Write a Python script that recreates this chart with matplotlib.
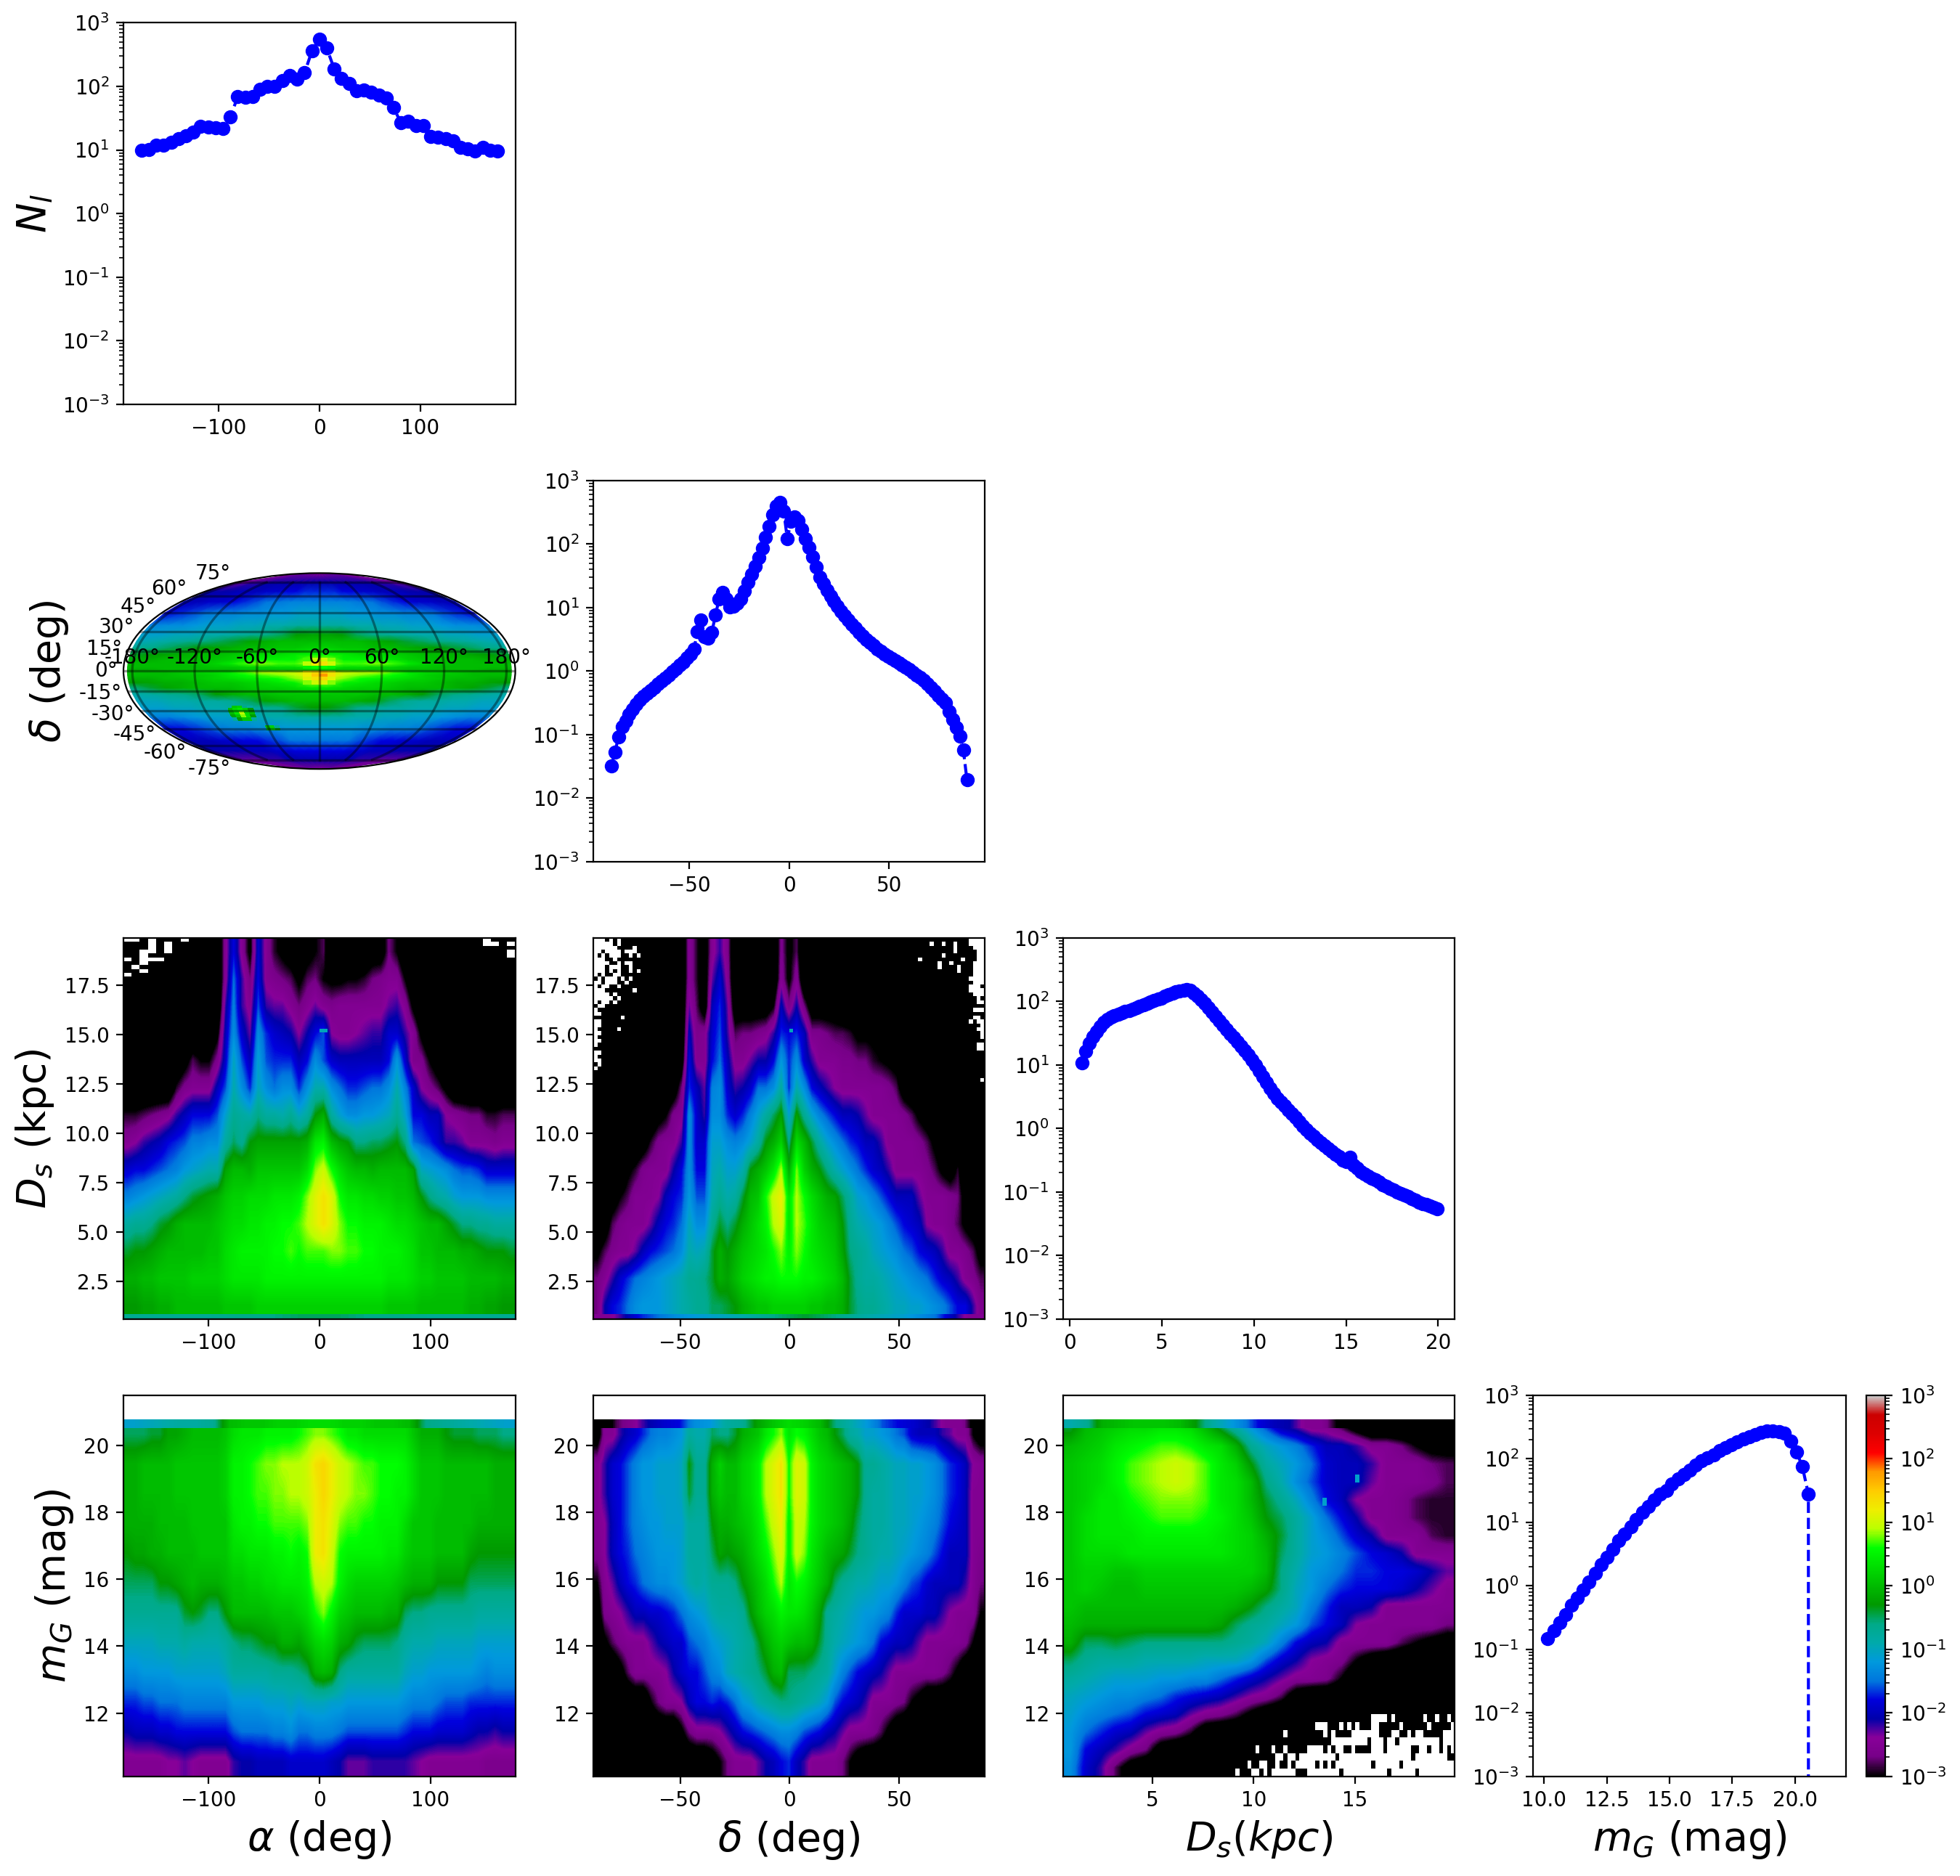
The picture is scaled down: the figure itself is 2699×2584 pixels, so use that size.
import numpy as np
import matplotlib
matplotlib.use('Agg')
import matplotlib.pyplot as plt
from matplotlib.colors import LogNorm, Normalize
from matplotlib.cm import ScalarMappable
from matplotlib.patches import Rectangle

# 1D histograms
alpha_bins = [-176.3,-169.0,-161.6,-154.3,-146.9,-139.6,-132.2,-124.9,-117.6,-110.2,-102.9,-95.5,-88.2,-80.8,-73.5,-66.1,-58.8,-51.4,-44.1,-36.7,-29.4,-22.0,-14.7,-7.3,0.0,7.3,14.7,22.0,29.4,36.7,44.1,51.4,58.8,66.1,73.5,80.8,88.2,95.5,102.9,110.2,117.6,124.9,132.2,139.6,146.9,154.3,161.6,169.0,176.3]
n_alpha = [10.0,10.2,11.8,11.8,13.3,14.9,16.8,18.9,23.3,22.8,22.3,22.0,33,69,67,69,91,100,99,123,148,129,163,363,553,400,188,132,112,86,87,81,72,66,46,26.7,28,24.2,24,16.4,16,15,13.8,11.1,10.4,9.6,11,10,9.6]

delta_bins = [-89.1,-87.3,-85.5,-83.7,-81.9,-80.1,-78.3,-76.5,-74.7,-72.9,-71.1,-69.3,-67.5,-65.7,-63.9,-62.1,-60.3,-58.5,-56.7,-54.9,-53.1,-51.3,-49.5,-47.7,-45.9,-44.1,-42.3,-40.5,-38.7,-36.9,-35.1,-33.3,-31.5,-29.7,-27.9,-26.1,-24.3,-22.5,-20.7,-18.9,-17.1,-15.3,-13.5,-11.7,-9.9,-8.1,-6.3,-4.5,-2.7,-0.9,0.9,2.7,4.5,6.3,8.1,9.9,11.7,13.5,15.3,17.1,18.9,20.7,22.5,24.3,26.1,27.9,29.7,31.5,33.3,35.1,36.9,38.7,40.5,42.3,44.1,45.9,47.7,49.5,51.3,53.1,54.9,56.7,58.5,60.3,62.1,63.9,65.7,67.5,69.3,71.1,72.9,74.7,76.5,78.3,80.1,81.9,83.7,85.5,87.3,89.1]
n_delta = [.032,.0525,.091,.134,.166,.208,.25,.30,.348,.40,.44,.49,.55,.62,.70,.78,.87,.98,1.10,1.24,1.4,1.6,1.85,2.2,4.2,6.4,3.5,3.3,4.1,7.6,13.6,17.1,13.6,10.2,10.4,11.8,13.8,18,25,33,45,61,87,127,188,288,398,452,331,120,227,269,232,172,121,89,62,43,30,23.8,18.8,15.2,12.6,10.4,8.7,7.4,6.3,5.4,4.7,4.07,3.57,3.16,2.8,2.5,2.24,2.04,1.86,1.69,1.58,1.47,1.36,1.26,1.15,1.05,.96,.87,.79,.71,.63,.55,.48,.41,.36,.316,.229,.172,.13,.0955,.0569,.0193]

ds_bins = [.64,.84,1.03,1.23,1.43,1.63,1.82,2.02,2.22,2.41,2.61,2.81,3.00,3.20,3.40,3.60,3.79,3.99,4.19,4.38,4.58,4.78,4.97,5.17,5.37,5.57,5.76,5.96,6.16,6.35,6.55,6.75,6.94,7.14,7.34,7.54,7.73,7.93,8.13,8.32,8.52,8.72,8.91,9.11,9.31,9.51,9.70,9.90,10.10,10.29,10.49,10.69,10.88,11.08,11.28,11.48,11.67,11.87,12.07,12.26,12.46,12.66,12.85,13.05,13.25,13.45,13.64,13.84,14.04,14.23,14.43,14.63,14.82,15.02,15.22,15.42,15.61,15.81,16.01,16.20,16.40,16.60,16.79,16.99,17.19,17.39,17.58,17.78,17.98,18.17,18.37,18.57,18.76,18.96,19.16,19.36,19.55,19.75,19.95]
n_ds = [10.7,16.4,21.7,27.5,33,40,47,52,56,60,63,66,69,72,76,80,84,89,93,97,103,108,113,120,127,134,141,147,151,153,150,136,122,106,92,79,68,58,49,42,36,31,27,23,19.5,17,14.5,12,10,8.1,6.5,5.3,4.3,3.6,3.0,2.6,2.25,1.95,1.7,1.48,1.27,1.1,.96,.84,.75,.67,.60,.54,.48,.43,.39,.36,.32,.30,.348,.26,.235,.21,.19,.178,.165,.155,.142,.131,.122,.114,.107,.10,.094,.089,.084,.079,.074,.069,.066,.063,.060,.058,.054]

mg_bins = [10.14,10.38,10.61,10.85,11.08,11.32,11.56,11.79,12.03,12.27,12.50,12.74,12.98,13.21,13.45,13.68,13.92,14.16,14.39,14.63,14.87,15.10,15.34,15.58,15.81,16.05,16.28,16.52,16.76,16.99,17.23,17.47,17.70,17.94,18.18,18.41,18.65,18.88,19.12,19.36,19.59,19.83,20.07,20.30,20.54,20.78]
n_mg = [.146,.198,.263,.352,.49,.65,.87,1.15,1.59,2.15,2.85,3.78,5.1,6.5,8.5,11.1,14.3,17.8,22.5,27.5,32,40,48,56,66,80,92,104,116,133,149,165,186,206,224,240,257,276,276,266,253,192,128,75,27.7,0]

# 2D maps, log10 of the density in tenths of a dex, first row is the lowest one
alpha_ds = [
 [-3,-3,-2,-2,-1,-1,0,0,0,0,0,0, 1,1,1,1,2,2,2,2,2,2,2,2, 2,2,2,2,2,2,2,2,1,1,1,1, 0,0,0,0,0,0,-1,-1,-2,-2,-3,-3],
 [-1,-1,0,0,1,1,1,1,2,2,2,2, 3,4,4,4,4,5,5,5,5,5,5,5, 5,5,5,5,5,5,5,5,4,4,4,3, 2,2,1,1,1,1,0,0,0,0,-1,-1],
 [-4,-3,-3,-2,-1,0,0,0,0,0,1,1, 3,4,5,5,5,5,6,6,7,6,7,7, 7,8,8,7,7,6,6,5,5,5,4,3, 1,1,0,0,0,-1,-1,-2,-3,-3,-3,-4],
 [-8,-7,-7,-6,-4,-3,-1,0,0,0,0,1, 2,3,3,4,4,5,5,6,6,7,9,11, 13,11,8,6,6,5,5,5,4,3,3,2, 1,0,0,-2,-4,-6,-6,-7,-7,-8,-8,-8],
 [-14,-13,-12,-11,-10,-9,-8,-6,-4,-3,-2,-1, 1,2,2,3,3,3,4,4,4,5,8,11, 13,11,6,4,4,3,3,2,2,1,1,0, -3,-6,-8,-9,-11,-12,-12,-12,-13,-13,-13,-13],
 [-19,-18,-18,-17,-16,-15,-14,-12,-11,-10,-9,-9, -2,0,0,-1,1,1,1,1,1,1,3,8, 10,6,3,1,0,0,-1,0,0,0,0,-2, -10,-11,-12,-13,-15,-16,-16,-17,-19,-19,-19,-19],
 [-25,-24,-22,-21,-20,-18,-17,-16,-14,-14,-13,-13, -8,-5,-7,-3,-2,-2,-2,-2,-2,-2,-1,4, 5,0,-2,-3,-6,-6,-5,-5,-4,-3,-6,-15, -16,-17,-19,-22,-22,-23,-25,-25,-25,-26,-25,-25],
 [-29,-29,-28,-27,-26,-25,-22,-20,-18,-18,-18,-16, -11,-7,-8,-9,-6,-8,-8,-9,-7,-10,-8,-3, -1,-8,-11,-13,-13,-12,-12,-11,-10,-7,-11,-18, -18,-20,-20,-24,-25,-26,-27,-27,-29,-29,-28,-28],
 [-35,-35,-35,-35,-35,-35,-29,-26,-25,-25,-25,-20, -16,-9,-13,-17,-10,-13,-15,-13,-13,-17,-13,-9, -9,-13,-15,-17,-17,-16,-15,-15,-13,-9,-14,-19, -24,-26,-28,-31,-35,-35,-35,-35,-35,-35,-35,-35],
 [-35,-35,-35,-35,-35,-35,-35,-32,-28,-30,-30,-26, -19,-10,-16,-20,-11,-16,-17,-17,-17,-20,-18,-13, -16,-19,-20,-20,-20,-20,-20,-20,-18,-12,-19,-26, -26,-30,-33,-35,-35,-35,-35,-35,-35,-35,-35,-35],
 [-35,-35,-35,-35,-35,-35,-35,-35,-35,-35,-35,-31, -20,-13,-19,-23,-13,-17,-19,-20,-21,-24,-21,-18, -16,-24,-25,-25,-24,-23,-22,-22,-19,-19,-22,-25, -31,-35,-35,-35,-35,-35,-35,-35,-35,-35,-35,-35],
 [-35,-35,-35,-35,-35,-35,-35,-35,-35,-35,-35,-35, -22,-14,-22,-25,-16,-22,-23,-23,-25,-27,-25,-23, -25,-26,-25,-25,-25,-25,-25,-25,-23,-22,-25,-31, -35,-35,-35,-35,-35,-35,-35,-35,-35,-35,-35,-35],
 [-35,-35,-35,-35,-35,-35,-35,-35,-35,-35,-35,-35, -25,-15,-22,-27,-18,-25,-26,-27,-28,-31,-28,-27, -30,-31,-31,-30,-30,-29,-27,-26,-25,-25,-30,-35, -35,-35,-35,-35,-35,-35,-35,-35,-35,-35,-35,-35],
 [-35,-35,-35,-35,-35,-35,-35,-35,-35,-35,-35,-35, -25,-18,-25,-31,-19,-25,-29,-31,-33,-35,-32,-30, -28,-35,-35,-35,-35,-35,-33,-33,-27,-30,-35,-35, -35,-35,-35,-35,-35,-35,-35,-35,-35,-35,-35,-35],
]

delta_ds = [
 [-27,-21,-18,-17,-15,-13,-12,-12,-12,-11,-10,-9,-8,-7,-7,-5,-5,-4,-3,-1,0,1,1,2,2,2,2,2,1,1,0,0,-1,-4,-6,-7,-7,-8,-9,-10,-10,-11,-11,-12,-13,-14,-16,-18,-18,-22,-26],
 [-27,-25,-22,-19,-17,-15,-14,-13,-12,-11,-10,-9,-7,-7,-6,-4,-1,-2,0,2,3,4,5,5,6,6,6,5,5,4,3,2,0,-4,-7,-8,-8,-9,-10,-11,-12,-13,-14,-15,-17,-19,-20,-22,-25,-26,-28],
 [-31,-28,-26,-25,-25,-23,-20,-18,-17,-16,-15,-13,-9,-10,-9,-4,-1,-3,-1,1,2,3,4,6,8,5,8,6,4,3,2,1,-2,-6,-7,-8,-10,-11,-12,-13,-15,-16,-18,-19,-20,-22,-25,-25,-26,-28,-32],
 [-35,-33,-28,-26,-25,-25,-25,-23,-20,-18,-17,-15,-10,-13,-13,-7,-4,-6,-4,-1,1,3,5,9,11,4,9,7,4,2,1,0,-3,-7,-9,-10,-11,-12,-14,-16,-18,-19,-20,-24,-25,-25,-26,-28,-31,-33,-33],
 [-35,-35,-33,-30,-28,-25,-25,-25,-24,-20,-18,-17,-12,-16,-16,-9,-7,-9,-8,-4,0,1,6,10,12,4,9,6,3,1,-1,-2,-5,-8,-11,-12,-14,-16,-18,-20,-20,-20,-23,-25,-25,-25,-26,-27,-32,-35,-35],
 [-35,-35,-35,-35,-31,-29,-26,-25,-25,-25,-21,-18,-13,-18,-18,-10,-9,-11,-11,-9,-3,-1,1,4,9,-1,8,2,-1,-3,-6,-9,-11,-13,-15,-17,-19,-20,-22,-25,-25,-25,-25,-26,-28,-31,-33,-29,-35,-35,-35],
 [-35,-35,-35,-35,-35,-35,-33,-29,-26,-25,-25,-22,-13,-19,-19,-11,-11,-13,-14,-13,-11,-8,-3,-1,2,-6,3,0,-4,-8,-11,-13,-15,-17,-18,-20,-20,-22,-25,-25,-25,-25,-26,-28,-31,-33,-35,-35,-35,-35,-35],
 [-35,-35,-35,-35,-35,-35,-35,-35,-32,-30,-26,-25,-13,-19,-22,-13,-13,-17,-19,-17,-14,-11,-8,-5,-2,-11,-2,-7,-11,-14,-16,-18,-20,-20,-21,-23,-25,-25,-25,-25,-26,-28,-31,-33,-35,-35,-35,-35,-35,-35,-35],
 [-35,-35,-35,-35,-35,-35,-35,-35,-35,-35,-33,-27,-17,-20,-23,-14,-13,-19,-22,-21,-19,-15,-15,-13,-8,-17,-9,-13,-18,-20,-22,-24,-25,-25,-25,-25,-25,-25,-26,-28,-33,-35,-35,-35,-35,-35,-35,-35,-35,-35,-35],
 [-35,-35,-35,-35,-35,-35,-35,-35,-35,-35,-35,-33,-18,-25,-25,-18,-15,-20,-25,-25,-23,-21,-21,-18,-12,-17,-13,-19,-22,-25,-25,-25,-26,-26,-27,-27,-29,-30,-31,-32,-35,-35,-35,-35,-35,-35,-35,-35,-35,-35,-35],
 [-35,-35,-35,-35,-35,-35,-35,-35,-35,-35,-35,-35,-20,-26,-25,-19,-16,-22,-28,-27,-27,-26,-25,-22,-17,-18,-17,-20,-26,-26,-27,-28,-28,-29,-31,-31,-31,-31,-33,-35,-35,-35,-35,-35,-35,-35,-35,-35,-35,-35,-35],
 [-35,-35,-35,-35,-35,-35,-35,-35,-35,-35,-35,-35,-23,-28,-33,-20,-17,-23,-33,-33,-33,-33,-33,-30,-20,-26,-21,-27,-33,-33,-33,-33,-35,-35,-35,-35,-35,-35,-35,-35,-35,-35,-35,-35,-35,-35,-35,-35,-35,-35,-35],
 [-35,-35,-35,-35,-35,-35,-35,-35,-35,-35,-35,-35,-25,-29,-33,-23,-19,-25,-35,-35,-35,-35,-35,-35,-25,-31,-25,-35,-35,-35,-35,-35,-35,-35,-35,-35,-35,-35,-35,-35,-35,-35,-35,-35,-35,-35,-35,-35,-35,-35,-35],
 [-35,-35,-35,-35,-35,-35,-35,-35,-35,-35,-35,-35,-25,-29,-33,-25,-22,-26,-35,-35,-35,-35,-35,-35,-26,-31,-28,-35,-35,-35,-35,-35,-35,-35,-35,-35,-35,-35,-35,-35,-35,-35,-35,-35,-35,-35,-35,-35,-35,-35,-35],
]

alpha_mg = [
 [-25,-25,-25,-25,-25,-24,-24,-23,-24,-25,-25,-25, -25,-22,-21,-21,-20,-20,-20,-20,-19,-19,-19,-19, -19,-20,-21,-23,-23,-23,-22,-22,-22,-22,-22,-23, -24,-25,-25,-25,-25,-25,-25,-25,-26,-26,-26,-26],
 [-21,-20,-20,-20,-19,-19,-18,-18,-18,-18,-18,-18, -18,-16,-15,-15,-15,-15,-14,-14,-13,-15,-15,-14, -14,-14,-15,-16,-16,-16,-16,-16,-16,-16,-17,-18, -18,-18,-19,-19,-19,-19,-20,-21,-21,-22,-21,-21],
 [-17,-17,-16,-16,-15,-15,-15,-14,-14,-14,-14,-14, -14,-12,-12,-12,-12,-11,-11,-11,-10,-11,-10,-10, -10,-11,-11,-12,-12,-12,-12,-12,-12,-12,-13,-14, -14,-14,-15,-16,-16,-16,-17,-17,-17,-17,-17,-17],
 [-13,-13,-12,-12,-12,-12,-11,-11,-11,-11,-11,-11, -10,-8,-8,-8,-8,-8,-7,-7,-7,-6,-5,-1, 0,-1,-6,-8,-8,-8,-8,-8,-8,-8,-10,-11, -11,-12,-12,-12,-12,-12,-12,-13,-14,-13,-13,-13],
 [-10,-10,-10,-10,-9,-9,-9,-8,-9,-9,-9,-9, -8,-6,-5,-5,-4,-3,-3,-1,-1,-2,0,2, 3,2,-1,-2,-4,-5,-5,-5,-5,-6,-8,-9, -9,-9,-10,-10,-10,-10,-10,-11,-11,-11,-11,-11],
 [-7,-7,-7,-7,-7,-7,-7,-4,-3,-4,-6,-6, -3,0,0,0,0,0,1,1,1,2,3,6, 8,5,2,1,0,0,0,0,-1,-1,-5,-6, -6,-7,-7,-7,-7,-7,-7,-8,-8,-8,-8,-8],
 [-5,-5,-5,-5,-3,-3,-2,-1,0,-1,-1,-1, 0,1,1,2,2,3,3,4,4,4,5,9, 10,9,5,3,2,2,2,2,2,1,0,-1, -1,-1,-3,-3,-3,-3,-5,-5,-5,-5,-5,-5],
 [-3,-2,-2,-1,-1,0,0,0,0,1,1,1, 1,3,3,4,4,4,5,5,6,5,6,12, 13,10,6,5,5,5,5,5,4,4,2,1, 1,1,0,0,0,0,-2,-3,-3,-3,-3,-3],
 [-1,-1,-1,-1,0,0,0,0,1,1,1,1, 1,4,5,5,6,6,7,7,7,7,8,12, 13,11,8,7,7,6,6,5,5,5,3,1, 1,1,0,0,0,0,0,-1,-1,-1,-1,-1],
 [-1,-1,0,0,0,0,1,1,1,1,1,1, 2,5,5,6,7,7,8,8,9,9,10,12, 14,12,10,9,8,8,7,6,6,5,5,3, 1,1,1,0,0,0,0,0,0,-1,-1,-1],
 [-1,-1,0,0,0,0,1,1,1,1,1,1, 2,5,5,6,7,8,8,9,9,9,10,13, 14,12,10,9,8,7,7,6,6,6,5,3, 1,1,1,0,0,0,0,0,0,-1,-1,-1],
 [-5,-5,-5,-4,-4,-2,-2,-1,0,0,0,0, 1,3,4,4,4,5,5,5,5,6,7,8, 8,7,6,4,4,3,3,3,3,3,3,1, -1,-1,-1,-3,-4,-4,-4,-5,-5,-5,-6,-6],
]

delta_mg = [
 [-35,-35,-35,-35,-35,-35,-35,-35,-35,-35,-35,-35,-35,-35,-35,-33,-30,-27,-25,-25,-25,-23,-21,-20,-18,-17,-20,-22,-25,-25,-25,-25,-27,-30,-33,-35,-35,-35,-35,-35,-35,-35,-35,-35,-35,-35,-35,-35,-35,-35,-35],
 [-35,-35,-35,-35,-35,-35,-35,-35,-35,-35,-35,-31,-27,-25,-25,-25,-24,-22,-20,-18,-17,-16,-15,-14,-13,-13,-14,-16,-17,-18,-20,-21,-23,-25,-25,-25,-26,-28,-31,-34,-35,-35,-35,-35,-35,-35,-35,-35,-35,-35,-35],
 [-35,-35,-35,-35,-35,-35,-35,-30,-27,-25,-25,-24,-20,-18,-18,-17,-18,-17,-15,-12,-11,-9,-8,-7,-6,-6,-7,-8,-9,-10,-12,-16,-18,-19,-20,-22,-25,-25,-25,-26,-27,-30,-32,-35,-35,-35,-35,-35,-35,-35,-35],
 [-35,-35,-35,-32,-28,-25,-25,-25,-25,-24,-21,-19,-18,-18,-16,-14,-13,-10,-9,-8,-7,-6,-4,-1,0,-5,-5,-5,-6,-7,-8,-11,-14,-16,-18,-19,-20,-21,-23,-25,-25,-25,-25,-25,-25,-26,-28,-31,-35,-35,-35],
 [-35,-31,-28,-26,-25,-25,-25,-23,-21,-20,-19,-19,-16,-15,-14,-12,-11,-10,-9,-8,-7,-4,-1,1,2,1,0,0,-1,-4,-7,-9,-10,-11,-12,-13,-15,-18,-19,-20,-20,-21,-23,-25,-25,-25,-25,-25,-26,-30,-34],
 [-33,-26,-25,-24,-22,-20,-20,-19,-19,-18,-17,-15,-13,-12,-11,-9,-8,-8,-8,-7,-3,0,2,3,5,4,4,3,1,-2,-7,-8,-9,-10,-11,-12,-12,-13,-14,-17,-19,-19,-19,-20,-20,-22,-24,-25,-25,-25,-30],
 [-30,-25,-23,-20,-18,-17,-15,-14,-13,-13,-12,-11,-9,-8,-9,-7,-7,-7,-6,-3,-1,1,3,6,9,4,6,5,3,1,-1,-5,-7,-8,-9,-9,-10,-11,-11,-12,-14,-16,-17,-19,-20,-20,-20,-20,-22,-25,-27],
 [-26,-24,-20,-18,-17,-15,-14,-13,-12,-12,-12,-11,-8,-8,-8,-5,-2,-3,-2,-1,1,3,5,8,11,5,10,8,4,2,0,-1,-2,-4,-6,-7,-8,-9,-9,-10,-11,-12,-13,-14,-16,-18,-20,-20,-20,-25,-26],
 [-25,-24,-20,-18,-16,-14,-13,-12,-12,-11,-11,-11,-8,-8,-8,-3,-1,-1,0,1,2,4,7,10,12,5,10,9,5,3,2,1,0,-2,-5,-7,-8,-8,-9,-10,-10,-11,-12,-13,-14,-16,-18,-19,-20,-25,-25],
 [-25,-22,-19,-18,-16,-14,-12,-12,-11,-11,-11,-10,-4,-7,-7,-1,1,0,0,2,3,5,9,11,13,6,11,10,5,3,2,1,0,-1,-3,-7,-8,-8,-9,-10,-10,-11,-11,-12,-13,-15,-17,-18,-20,-25,-25],
 [-25,-22,-19,-18,-16,-14,-12,-12,-11,-11,-11,-10,-3,-7,-7,-1,2,0,0,2,3,5,9,11,13,6,11,10,5,3,2,1,0,-1,-3,-7,-7,-8,-9,-10,-10,-11,-11,-12,-13,-15,-17,-18,-20,-24,-25],
 [-33,-25,-25,-22,-20,-19,-17,-15,-14,-14,-13,-12,-8,-9,-9,-5,-6,-6,-4,-1,0,1,4,6,8,4,6,5,3,1,0,-3,-5,-8,-9,-11,-11,-12,-13,-15,-16,-19,-20,-20,-20,-22,-23,-25,-25,-30,-33],
]

ds_mg = [
 [-13,-19,-22,-28,-33,-35,-35,-35,-35,-35,-35,-35,-35,-35,-35,-35,-35,-35,-35,-35,-35,-35,-35,-35,-35,-35],
 [-12,-18,-20,-22,-25,-27,-33,-35,-35,-35,-35,-35,-35,-35,-35,-35,-35,-35,-35,-35,-35,-35,-35,-35,-35,-35],
 [-12,-15,-17,-19,-20,-23,-25,-26,-29,-34,-35,-35,-35,-35,-35,-35,-35,-35,-35,-35,-35,-35,-35,-35,-35,-35],
 [-11,-13,-14,-15,-16,-18,-19,-20,-23,-25,-26,-28,-31,-34,-35,-35,-35,-35,-35,-35,-35,-35,-35,-35,-35,-35],
 [-10,-11,-12,-13,-13,-14,-15,-17,-18,-19,-20,-22,-24,-25,-28,-33,-35,-35,-35,-35,-35,-35,-35,-35,-35,-35],
 [-8,-9,-10,-11,-11,-11,-12,-12,-13,-13,-15,-17,-19,-21,-23,-25,-25,-26,-30,-35,-35,-35,-35,-35,-35,-35],
 [-5,-7,-8,-8,-8,-9,-9,-9,-9,-10,-10,-10,-12,-16,-19,-21,-24,-25,-26,-30,-33,-35,-35,-35,-35,-35],
 [-1,-5,-5,-4,-5,-6,-6,-6,-6,-6,-6,-7,-8,-10,-14,-18,-20,-21,-25,-25,-25,-25,-28,-30,-32,-33],
 [0,-1,-1,-1,-1,-1,-1,-1,-1,-1,-2,-5,-7,-8,-10,-12,-16,-18,-20,-24,-25,-25,-25,-25,-25,-27],
 [1,0,0,0,0,0,0,0,0,0,0,-1,-3,-6,-8,-10,-14,-17,-20,-20,-21,-25,-25,-25,-25,-25],
 [1,2,1,0,0,1,1,1,1,1,1,1,0,-2,-6,-10,-12,-15,-17,-18,-18,-18,-19,-21,-23,-25],
 [1,2,2,1,1,2,2,2,2,2,2,2,2,0,-6,-9,-12,-13,-15,-17,-17,-18,-18,-19,-21,-23],
 [1,3,3,3,4,4,4,4,4,4,4,3,2,0,-5,-8,-11,-12,-14,-16,-18,-19,-21,-25,-25,-25],
 [1,3,4,4,4,5,5,5,5,5,4,3,2,-1,-4,-8,-11,-13,-16,-19,-21,-25,-25,-25,-28,-29],
 [1,3,4,4,5,6,7,7,7,6,5,3,1,-3,-5,-8,-11,-15,-18,-21,-25,-25,-26,-28,-29,-29],
 [1,2,4,4,6,7,8,8,8,7,4,3,0,-4,-7,-10,-14,-18,-20,-24,-25,-25,-26,-28,-29,-29],
 [1,2,3,5,7,8,9,10,9,7,4,3,0,-6,-9,-13,-16,-19,-20,-20,-23,-25,-25,-25,-26,-28],
 [1,2,3,5,7,8,9,10,9,7,4,2,-3,-8,-10,-12,-15,-19,-20,-20,-22,-25,-25,-25,-27,-28],
 [0,1,2,4,5,6,7,7,6,4,3,-1,-7,-10,-12,-14,-17,-20,-20,-22,-25,-25,-27,-30,-32,-32],
 [-4,0,1,2,3,3,4,4,3,0,-4,-8,-12,-16,-20,-22,-25,-25,-28,-32,-35,-35,-35,-35,-35,-35],
]

# thin rows at the edge of the maps
alpha_ds_edge = [-7,-7,-7,-6,-6,-5,-5,-6,-6,-7,-7,-7]
delta_ds_edge = [-25,-17,-13,-11,-9,-6,-4,-6,-9,-11,-15,-25]
alpha_mg_edge = [-11,-10,-9,-8,-8,-7,0,1,1,2,2,3,3,2,2,1,1,0,-6,-7,-8,-9,-10,-11]
delta_mg_edge = [-35,-28,-25,-21,-19,-18,-13,-12,-8,-7,-2,1,3,2,0,-6,-9,-12,-16,-18,-19,-21,-25,-25,-33]
ds_mg_edge = [-9,-7,-1,0,1,1,1,0,-3,-8,-11,-14,-18,-20,-21,-25,-25,-30,-35,-35,-35,-35,-35,-35,-35]

# odd single bins: x, y, log10 in tenths
odd_alpha_ds = [(0.0, 15.1, -10)]
odd_delta_ds = [(-0.1, 15.1, -10)]
odd_ds_mg = [(15.0, 18.9, -11), (13.4, 18.2, -11)]

# sky map, rows go from the south pole to the north pole
moll_lat = [-88,-75,-65,-55,-45,-35,-27.5,-22.5,-17.5,-12.5,-8.5,-5.5,-3,-1,1,3,5.5,8.5,12.5,17.5,22.5,27.5,35,45,55,65,75,88]
moll_lon = [-176.4,-157.5,-142.5,-127.5,-112.5,-97.5,-82.5,-67.5,-52.5,-37.5,-22.5,-7.5,7.5,22.5,37.5,52.5,67.5,82.5,97.5,112.5,127.5,142.5,157.5,176.4]
moll_map = [
 [-26,-26,-26,-26,-25,-25,-25,-25,-25,-25,-25,-25,-25,-25,-25,-25,-25,-25,-25,-25,-26,-26,-26,-26],
 [-23,-23,-23,-23,-22,-22,-22,-21,-21,-21,-21,-21,-21,-21,-21,-21,-21,-22,-22,-22,-23,-23,-23,-23],
 [-21,-21,-21,-21,-20,-20,-20,-19,-19,-18,-18,-18,-18,-18,-18,-19,-19,-20,-20,-20,-21,-21,-21,-21],
 [-20,-20,-20,-19,-19,-18,-18,-17,-16,-15,-15,-15,-15,-15,-15,-16,-17,-18,-18,-19,-19,-20,-20,-20],
 [-18,-18,-17,-16,-15,-14,-14,-13,-13,-12,-12,-12,-12,-12,-12,-13,-13,-14,-14,-15,-16,-17,-18,-18],
 [-14,-14,-13,-12,-11,-11,-10,-10,-9,-9,-8,-8,-8,-8,-9,-9,-10,-10,-11,-11,-12,-13,-14,-14],
 [-11,-11,-10,-10,-9,-9,-8,-8,-7,-6,-4,-3,-3,-4,-6,-7,-8,-8,-9,-9,-10,-10,-11,-11],
 [-10,-10,-9,-9,-8,-8,-7,-5,-2,-1,0,0,0,0,-1,-2,-5,-7,-8,-8,-9,-9,-10,-10],
 [-9,-8,-7,-6,-5,-3,-1,0,0,1,1,1,1,1,1,0,0,-1,-3,-5,-6,-7,-8,-9],
 [-6,-4,-2,-1,0,0,0,1,2,2,3,4,4,3,2,2,1,0,0,0,-1,-2,-4,-6],
 [-3,-2,-1,-1,0,1,1,2,3,4,5,8,8,5,4,3,2,1,1,0,-1,-1,-2,-3],
 [-1,-1,0,0,1,2,3,4,5,6,8,11,11,8,6,5,4,3,2,1,0,0,-1,-1],
 [0,0,0,1,1,2,4,6,7,8,9,12,12,9,8,7,6,4,2,1,1,0,0,0],
 [0,0,0,1,2,3,4,7,9,9,10,13,13,10,9,9,7,4,3,2,1,0,0,0],
 [-1,-1,0,0,0,0,0,1,1,1,1,1,1,1,1,1,1,0,0,0,0,0,-1,-1],
 [0,0,0,0,0,1,1,2,2,3,3,5,5,3,3,2,2,1,1,0,0,0,0,0],
 [0,0,0,0,1,2,4,7,8,7,7,9,9,7,7,8,7,4,2,1,0,0,0,0],
 [-1,-1,0,0,0,1,2,4,5,5,5,8,8,5,5,5,4,2,1,0,0,0,-1,-1],
 [-4,-3,-2,-1,0,0,1,2,3,3,4,5,5,4,3,3,2,1,0,0,-1,-2,-3,-4],
 [-7,-6,-5,-4,-3,-2,-1,0,0,1,1,2,2,1,1,0,0,-1,-2,-3,-4,-5,-6,-7],
 [-10,-9,-8,-7,-6,-5,-4,-2,-1,0,0,0,0,0,0,-1,-2,-4,-5,-6,-7,-8,-9,-10],
 [-11,-11,-10,-10,-9,-9,-8,-7,-6,-5,-3,-2,-2,-3,-5,-6,-7,-8,-9,-9,-10,-10,-11,-11],
 [-14,-13,-13,-12,-11,-11,-10,-10,-9,-9,-8,-8,-8,-8,-9,-9,-10,-10,-11,-11,-12,-13,-13,-14],
 [-18,-17,-16,-15,-14,-14,-13,-13,-12,-12,-11,-11,-11,-11,-12,-12,-13,-13,-14,-14,-15,-16,-17,-18],
 [-20,-20,-19,-19,-18,-17,-16,-15,-15,-14,-14,-14,-14,-14,-14,-15,-15,-16,-17,-18,-19,-19,-20,-20],
 [-21,-21,-21,-20,-20,-20,-19,-19,-18,-18,-17,-17,-17,-17,-18,-18,-19,-19,-20,-20,-20,-21,-21,-21],
 [-23,-23,-22,-22,-21,-21,-21,-21,-21,-21,-21,-21,-21,-21,-21,-21,-21,-21,-21,-21,-22,-22,-23,-23],
 [-26,-26,-25,-25,-25,-25,-25,-25,-25,-25,-25,-25,-25,-25,-25,-25,-25,-25,-25,-25,-25,-25,-26,-26],
]

# small bright patches: (lon edges, lat edges, values)
bulge_south = ([-15,-7.5,0,7.5,15], [-10,-7,-4,-2,0], [[8,10,11,8],[11,13,14,11],[12,15,18,13],[12,14,15,13]])
bulge_north = ([-15,-7.5,0,7.5,15], [2,4,7,10], [[5,6,6,5],[9,12,13,10],[7,9,10,8]])
lmc = ([-91,-86,-81,-76,-71,-66], [-38,-35.5,-33,-30.5,-28,-26], [[-8,-3,1,1,-8],[-2,1,8,3,-3],[0,4,9,3,0],[0,3,4,2,-3],[-8,1,2,-6,-8]])
smc = ([-60,-55,-50,-45], [-46,-44,-42], [[1,4,-1],[0,2,-7]])

# tick positions of the sky map are in radians, the labels say degrees
moll_ticks = [-3, -2, -1, 0, 1, 2, 3]
moll_tick_labels = ['-180°', '-120°', '-60°', '0°', '60°', '120°', '180°']

# empty bins ('#'), rows go from the top of the map down
empty_alpha_ds = [
 "##.#...#" + "."*36 + "#...",
 "...#.#.." + "."*36 + "##.#",
 "...#.#.." + "."*36 + "....",
 "..##.#.." + "."*36 + "...#",
 "..#....." + "."*36 + "...#",
 "#.###...", "..#.....", ".#......", "..#.....", "#.......",
]
empty_delta_ds_left = [
 "###.#.#.....","#####.#.....","######....#.","##.####.###.","#.#.###..#.#","###..#......","####..#.##..",
 "###.###..#..","###.#.#..#.#","#.#..##.....",".#.###.#.#..","##.###..#...","#.##..#.....","###.......#.",
 "####.#......","#####.#.....","#.##.#......",".##.........","#...........","##..........",".......#....",
 "##..........","##..........","#.....#.....","##..........","#...........","##..........","#...........",
 "............","##..........","#...........","##..........",".#..........","#...........",
]
empty_delta_ds_right = [
 "..............####","....#..#..#...####","..........#....###","..........#.....##",".......#........##",
 ".#..........#...##","......#..#.....###","......#....#...###","...........#...###","...............###",
 "..............####","...............###","..............###.","..............####","...............###",
 "................#.","................##","..................","...............###","..................",
 "...............##.","..............#.##",".................#","................##",".................#",
 ".................#","..................","................##","................##","..................",
 "..................","..................","..................","..................","..................",
 "..................",".................#",
]
empty_ds_mg = [
 "...................................####.#.......#..#..#.",
 ".....................###...#.#.#...##.....#......#.....#",
 ".............#.........#.#....#######...##..#.##.....###",
 ".........................#########.###.##.##########.###",
 "......#...#..#.....####.#.##..#....###.######..##.##.#.#",
 "...........##.##.#########.##################.########..",
 "....#..##..#..#.#####.#.#.#########.######.#############",
 ".#...##.#.######...########.###########.######.#########",
]

cmap = plt.get_cmap('nipy_spectral')
norm = Normalize(-3, 3)
W, H = 2699, 2584
rows_px = [(31.4, 556.8), (661.8, 1186.8), (1291.8, 1816.8), (1921.8, 2446.8)]
cols_px = [(170, 709.6), (817.3, 1356), (1464.3, 2003), (2111.3, 2542)]
alpha_lim = (-176.4, 176.4)
delta_lim = (-89.5, 89.0)
ds_lim = (0.62, 19.9)
ds_y_lim = (0.6, 19.9)
mg_lim = (10.11, 20.78)
label_size = 20


def make_axes(left, right, top, bottom, **kw):
    return fig.add_axes([left / W, 1 - bottom / H, (right - left) / W, (bottom - top) / H], **kw)


def curve(row, col, x, y, xlim):
    ax = make_axes(*cols_px[col], *rows_px[row])
    ax.plot(x, y, 'o--', color='b')
    ax.set_yscale('log')
    ax.set_ylim(1e-3, 1e3)
    ax.set_xlim(*xlim)
    ax.yaxis.set_major_locator(matplotlib.ticker.LogLocator(base=10, numticks=10))
    return ax


def density(row, col, grid, xlim, ylim, edge, edge_y):
    ax = make_axes(*cols_px[col], *rows_px[row])
    ax.imshow(np.array(grid) / 10, origin='lower', extent=[*xlim, *ylim], aspect='auto', cmap=cmap,
              norm=norm, interpolation='bilinear', interpolation_stage='data')
    ax.imshow(np.array([edge]) / 10, origin='lower', extent=[*xlim, *edge_y], aspect='auto', cmap=cmap,
              norm=norm, interpolation='bilinear', interpolation_stage='data')
    ax.set_xlim(*xlim)
    ax.set_ylim(*ylim)
    return ax


def mark_empty(ax, rows, x0, dx, ytop, dy):
    for i, line in enumerate(rows):
        for j, c in enumerate(line):
            if c == '#':
                ax.add_patch(Rectangle((x0 + j * dx, ytop - (i + 1) * dy), dx, dy, fc='w', ec='none', zorder=2))


def mark_odd(ax, cells, dx, dy):
    for x, y, v in cells:
        ax.add_patch(Rectangle((x, y), dx, dy, fc=cmap(norm(v / 10)), ec='none', zorder=2))


fig = plt.figure(figsize=(W / 200, H / 200), dpi=200)

# diagonal
ax = curve(0, 0, alpha_bins, n_alpha, (-194, 194))
ax.set_ylabel(r'$N_l$', fontsize=label_size)
curve(1, 1, delta_bins, n_delta, (-98, 98))
curve(2, 2, ds_bins, n_ds, (-0.36, 20.9))
ax = curve(3, 3, mg_bins, n_mg, (9.56, 22.04))
ax.set_xlabel(r'$m_G$ (mag)', fontsize=label_size)

# sky map
ax = make_axes(*cols_px[0], *rows_px[1], projection='mollweide')
to_rad = np.radians
ax.pcolormesh(to_rad(moll_lon), to_rad(moll_lat), np.array(moll_map) / 10, cmap=cmap, norm=norm, shading='gouraud')
for lons, lats, vals in [bulge_south, bulge_north, lmc, smc]:
    ax.pcolormesh(to_rad(lons), to_rad(lats), np.array(vals) / 10, cmap=cmap, norm=norm)
ax.set_xticks(moll_ticks, labels=moll_tick_labels)
ax.grid(True, color='k', alpha=0.4, linewidth=1.2)
ax.set_ylabel(r'$\delta$ (deg)', fontsize=label_size)

# Ds row
ax = density(2, 0, alpha_ds, alpha_lim, ds_y_lim, alpha_ds_edge, (0.6, 0.85))
mark_empty(ax, empty_alpha_ds, alpha_lim[0], 7.35, ds_y_lim[1], 0.197)
mark_odd(ax, odd_alpha_ds, 7.35, 0.197)
ax.set_ylabel(r'$D_s$ (kpc)', fontsize=label_size)
ax = density(2, 1, delta_ds, delta_lim, ds_y_lim, delta_ds_edge, (0.6, 0.85))
mark_empty(ax, empty_delta_ds_left, delta_lim[0], 1.785, ds_y_lim[1], 0.197)
mark_empty(ax, empty_delta_ds_right, 56.8, 1.785, ds_y_lim[1], 0.197)
mark_odd(ax, odd_delta_ds, 1.785, 0.197)

# mG row
ax = density(3, 0, alpha_mg, alpha_lim, mg_lim, alpha_mg_edge, (20.52, 20.78))
ax.set_ylim(mg_lim[0], 21.5)
ax.set_ylabel(r'$m_G$ (mag)', fontsize=label_size)
ax.set_xlabel(r'$\alpha$ (deg)', fontsize=label_size)
ax = density(3, 1, delta_mg, delta_lim, mg_lim, delta_mg_edge, (20.52, 20.78))
ax.set_ylim(mg_lim[0], 21.5)
ax.set_xlabel(r'$\delta$ (deg)', fontsize=label_size)
ax = density(3, 2, ds_mg, ds_lim, mg_lim, ds_mg_edge, (20.52, 20.78))
mark_empty(ax, empty_ds_mg, 8.9, 0.197, mg_lim[0] + 8 * 0.232, 0.232)
mark_odd(ax, odd_ds_mg, 0.197, 0.232)
ax.set_ylim(mg_lim[0], 21.5)
ax.set_xlabel(r'$D_s (kpc)$', fontsize=label_size)

# colorbar
cax = make_axes(2569.5, 2596.4, *rows_px[3])
fig.colorbar(ScalarMappable(LogNorm(1e-3, 1e3), cmap), cax=cax)

fig.savefig('out.png', dpi=200)
